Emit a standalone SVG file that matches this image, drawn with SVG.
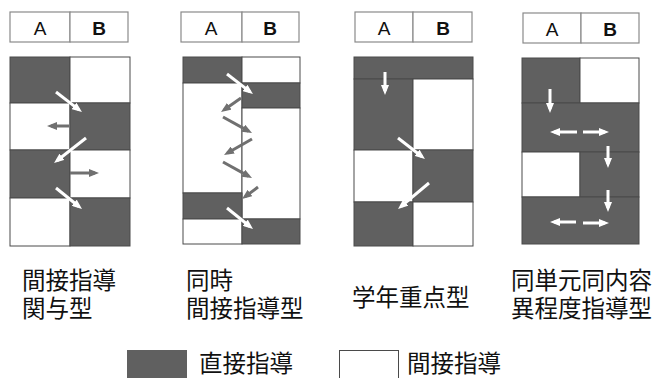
<svg xmlns="http://www.w3.org/2000/svg" width="654" height="378" viewBox="0 0 654 378">
<style>
.hd{fill:#fff;stroke:#8a8a8a;stroke-width:1.2}
.hl{font-family:"Liberation Sans",Arial,sans-serif;font-size:19px;fill:#111;text-anchor:middle}
.d{fill:#606060;stroke:#4a4a4a;stroke-width:1}
.w{fill:#fff;stroke:#4a4a4a;stroke-width:1}
.lb{font-family:"Noto Sans CJK JP","Noto Sans CJK SC",sans-serif;font-size:23.5px;fill:#111}
.aw{stroke:#fff;stroke-width:3;fill:none;marker-end:url(#hw)}
.ag{stroke:#707070;stroke-width:3;fill:none;marker-end:url(#hg)}
</style>
<defs>
<marker id="hw" viewBox="0 0 10 8" refX="6" refY="4" markerWidth="10" markerHeight="8" markerUnits="userSpaceOnUse" orient="auto"><path d="M0,0 L10,4 L0,8 z" fill="#fff"/></marker>
<marker id="hg" viewBox="0 0 10 8" refX="6" refY="4" markerWidth="10" markerHeight="8" markerUnits="userSpaceOnUse" orient="auto"><path d="M0,0 L10,4 L0,8 z" fill="#707070"/></marker>
</defs>
<rect width="654" height="378" fill="#fff"/>

<g id="panel1">
<rect class="hd" x="10" y="12" width="60" height="30"/><rect class="hd" x="70" y="12" width="58" height="30"/>
<text class="hl" x="40" y="35">A</text><text class="hl" x="99" y="35" font-weight="bold">B</text>
<rect class="d" x="10" y="57" width="60" height="46"/><rect class="w" x="70" y="57" width="60" height="46"/>
<rect class="w" x="10" y="103" width="60" height="47"/><rect class="d" x="70" y="103" width="60" height="47"/>
<rect class="d" x="10" y="150" width="60" height="48"/><rect class="w" x="70" y="150" width="60" height="48"/>
<rect class="w" x="10" y="198" width="60" height="48"/><rect class="d" x="70" y="198" width="60" height="48"/>
<text class="lb" x="22" y="289">間接指導</text><text class="lb" x="22" y="317">関与型</text>
</g>

<g id="panel2">
<rect class="hd" x="181" y="12" width="61" height="30"/><rect class="hd" x="242" y="12" width="57" height="30"/>
<text class="hl" x="211" y="35">A</text><text class="hl" x="270" y="35" font-weight="bold">B</text>
<rect class="d" x="183" y="57" width="59" height="26"/><rect class="w" x="242" y="57" width="58" height="26"/>
<rect class="w" x="183" y="83" width="59" height="110"/><rect class="d" x="242" y="83" width="58" height="25"/>
<rect class="w" x="242" y="108" width="58" height="111"/>
<rect class="d" x="183" y="193" width="59" height="26"/>
<rect class="w" x="183" y="219" width="59" height="25"/><rect class="d" x="242" y="219" width="58" height="25"/>
<text class="lb" x="186" y="289">同時</text><text class="lb" x="186" y="317">間接指導型</text>
</g>

<g id="panel3">
<rect class="hd" x="355" y="12" width="58" height="30"/><rect class="hd" x="413" y="12" width="59" height="30"/>
<text class="hl" x="384" y="35">A</text><text class="hl" x="443" y="35" font-weight="bold">B</text>
<rect class="d" x="354" y="57" width="119" height="22"/>
<rect class="d" x="354" y="79" width="59" height="71"/><rect class="w" x="413" y="79" width="60" height="71"/>
<rect class="w" x="354" y="150" width="59" height="52"/><rect class="d" x="413" y="150" width="60" height="52"/>
<rect class="d" x="354" y="202" width="59" height="44"/><rect class="w" x="413" y="202" width="60" height="44"/>
<text class="lb" x="352" y="306">学年重点型</text>
</g>

<g id="panel4">
<rect class="hd" x="523" y="13" width="58" height="30"/><rect class="hd" x="581" y="13" width="58" height="30"/>
<text class="hl" x="552" y="36">A</text><text class="hl" x="610" y="36" font-weight="bold">B</text>
<rect class="d" x="522" y="58" width="58" height="45"/><rect class="w" x="580" y="58" width="59" height="45"/>
<rect class="d" x="522" y="103" width="117" height="49"/>
<rect class="w" x="522" y="152" width="58" height="45"/><rect class="d" x="580" y="152" width="59" height="45"/>
<rect class="d" x="522" y="197" width="117" height="47"/>
<text class="lb" x="511" y="289">同単元同内容</text><text class="lb" x="511" y="317">異程度指導型</text>
</g>

<g id="connectors">
<line class="aw" x1="56" y1="92" x2="78.8" y2="109.6"/>
<line class="ag" x1="69" y1="126" x2="51" y2="126"/>
<line class="aw" x1="86" y1="138" x2="57.2" y2="160.5"/>
<line class="ag" x1="70" y1="173" x2="95" y2="173"/>
<line class="aw" x1="56" y1="188" x2="78.9" y2="206.5"/>

<line class="aw" x1="227" y1="74" x2="249.8" y2="91.6"/>
<line class="ag" x1="241" y1="98" x2="224.3" y2="109.7"/>
<line class="ag" x1="223" y1="117" x2="248.5" y2="131.1"/>
<line class="ag" x1="252" y1="139" x2="227.5" y2="153"/>
<line class="ag" x1="223" y1="162" x2="248.5" y2="176.1"/>
<line class="ag" x1="258" y1="187" x2="245.2" y2="196.6"/>
<line class="aw" x1="227" y1="208" x2="249.9" y2="226.5"/>

<line class="aw" x1="385" y1="72" x2="385" y2="91"/>
<line class="aw" x1="398" y1="138" x2="421.8" y2="156.5"/>
<line class="aw" x1="429" y1="183" x2="401.1" y2="206.4"/>

<line class="aw" x1="550" y1="89" x2="550" y2="109"/>
<line class="aw" x1="577" y1="132" x2="554" y2="132"/>
<line class="aw" x1="583" y1="132" x2="605" y2="132"/>
<line class="aw" x1="608" y1="146" x2="608" y2="164"/>
<line class="aw" x1="608" y1="190" x2="608" y2="208"/>
<line class="aw" x1="576" y1="222" x2="554" y2="222"/>
<line class="aw" x1="583" y1="223" x2="605" y2="223"/>
</g>

<g id="legend">
<rect x="127" y="350" width="60" height="32" fill="#606060"/>
<text class="lb" x="199" y="372">直接指導</text>
<rect x="339.5" y="350.5" width="59" height="32" fill="#fff" stroke="#4a4a4a" stroke-width="1"/>
<text class="lb" x="407" y="372">間接指導</text>
</g>
</svg>
